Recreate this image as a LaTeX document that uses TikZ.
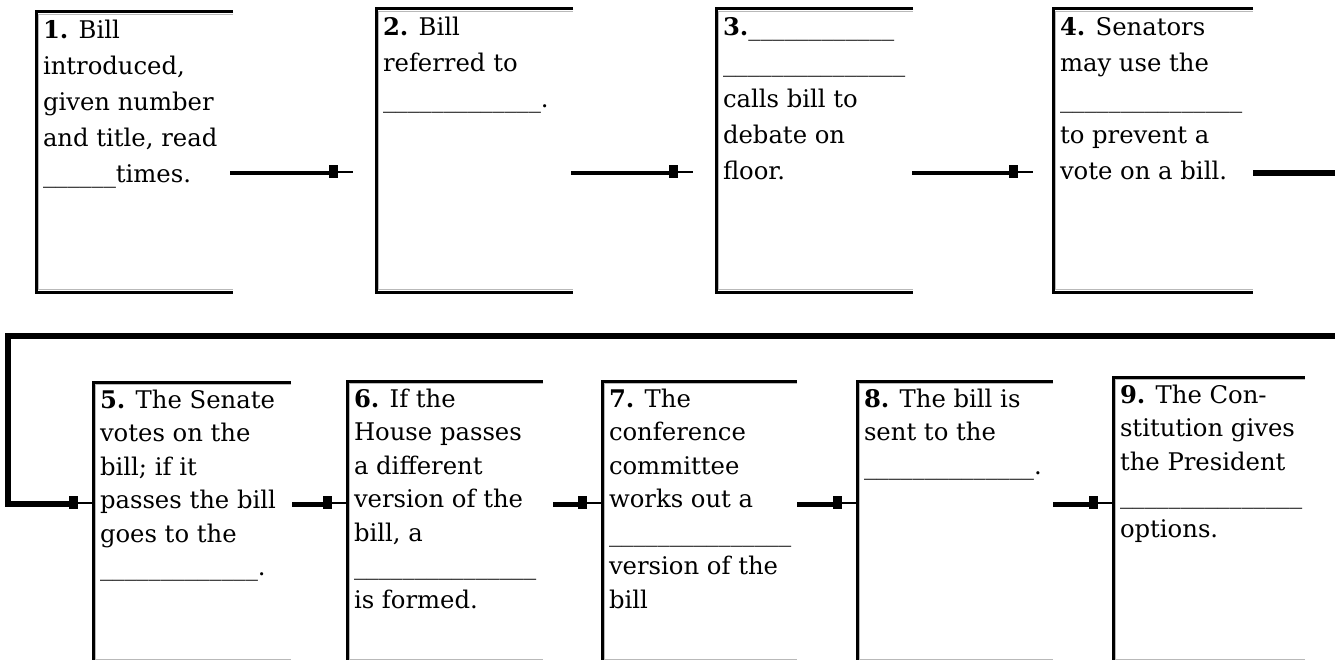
\documentclass[tikz,border=0pt]{standalone}
\usepackage{fontspec}
\setmainfont{DejaVu Serif}
\usetikzlibrary{calc}
\newcommand{\us}[1]{\foreach \i in {1,...,#1}{\_}}
\newcommand{\frameit}[1]{%
  \draw[line width=3pt,black] (#1.north east) -- (#1.north west) -- (#1.south west) -- (#1.south east);
  \draw[line width=1.2pt,gray!55] ($(#1.north east)+(0,2.2)$) -- ($(#1.north west)+(2.2,2.2)$) -- ($(#1.south west)+(2.2,-2.2)$) -- ($(#1.south east)+(0,-2.2)$);}
\newcommand{\flow}[3][5pt]{%
  \draw[line width=#1] (#2) -- ($(#3)+(-15,0)$);
  \fill ($(#3)+(-24,-8)$) rectangle ($(#3)+(-15,5)$);
  \draw[line width=1.6pt] ($(#3)+(-15,-1)$) -- ($(#3)+(0,-1)$);}
\tikzset{
  boxnode/.style={inner sep=0pt, outer sep=0pt, anchor=north west},
  txt/.style={inner sep=0pt, outer sep=0pt, anchor=north west, align=left,
    execute at begin node={\rule{0pt}{19pt}}},
  toptxt/.style={txt, font=\fontsize{24.3pt}{36pt}\selectfont},
  bottxt/.style={txt, font=\fontsize{24.3pt}{33.5pt}\selectfont},
}
\begin{document}
\begin{tikzpicture}[x=1pt,y=-1pt]
\useasboundingbox (0,0) rectangle (1335,660);
\clip (0,0) rectangle (1335,660);
% top row boxes
\node[boxnode, minimum width=197pt, minimum height=280pt] (b1) at (36,12) {};
\node[boxnode, minimum width=197pt, minimum height=283pt] (b2) at (376,9) {};
\node[boxnode, minimum width=197pt, minimum height=283pt] (b3) at (716,9) {};
\node[boxnode, minimum width=200pt, minimum height=283pt] (b4) at (1053,9) {};
% bottom row boxes
\node[boxnode, minimum width=198pt, minimum height=280pt] (b5) at (93,382) {};
\node[boxnode, minimum width=196pt, minimum height=281pt] (b6) at (347,381) {};
\node[boxnode, minimum width=195pt, minimum height=281pt] (b7) at (602,381) {};
\node[boxnode, minimum width=196pt, minimum height=281pt] (b8) at (857,381) {};
\node[boxnode, minimum width=192pt, minimum height=285pt] (b9) at (1113,377) {};
\foreach \b in {b1,b2,b3,b4,b5,b6,b7,b8,b9}{\frameit{\b}}
% texts
\node[toptxt] (t1) at ($(b1.north west)+(7,8)$) {\textbf{1.} Bill\\introduced,\\given number\\and title, read\\\us{6}times.};
\node[toptxt] (t2) at ($(b2.north west)+(7,8)$) {\textbf{2.} Bill\\referred to\\\us{13}.};
\node[toptxt] (t3) at ($(b3.north west)+(7,8)$) {\textbf{3.}\us{12}\\\us{15}\\calls bill to\\debate on\\floor.};
\node[toptxt] (t4) at ($(b4.north west)+(7,8)$) {\textbf{4.} Senators\\may use the\\\us{15}\\to prevent a\\vote on a bill.};
\node[bottxt] (t5) at ($(b5.north west)+(7,8)$) {\textbf{5.} The Senate\\votes on the\\bill; if it\\passes the bill\\goes to the\\\us{13}.};
\node[bottxt] (t6) at ($(b6.north west)+(7,8)$) {\textbf{6.} If the\\House passes\\a different\\version of the\\bill, a\\\us{15}\\is formed.};
\node[bottxt] (t7) at ($(b7.north west)+(7,8)$) {\textbf{7.} The\\conference\\committee\\works out a\\\us{15}\\version of the\\bill};
\node[bottxt] (t8) at ($(b8.north west)+(7,8)$) {\textbf{8.} The bill is\\sent to the\\\us{14}.};
\node[bottxt] (t9) at ($(b9.north west)+(7,8)$) {\textbf{9.} The Con-\\stitution gives\\the President\\\us{15}\\options.};
% connector end points
\coordinate (s1) at (230,173); \coordinate (e1) at (353,173);
\coordinate (s2) at (571,173); \coordinate (e2) at (693,173);
\coordinate (s3) at (912,173); \coordinate (e3) at (1033,173);
\coordinate (s4) at (1253,173);
\coordinate (r1) at (1345,173); \coordinate (r2) at (1345,336);
\coordinate (l1) at (8,336); \coordinate (l2) at (8,504);
\coordinate (e4) at (b5.west |- 0,504);
\coordinate (s5) at (292,504); \coordinate (e5) at (b6.west |- 0,504);
\coordinate (s6) at (553,504); \coordinate (e6) at (b7.west |- 0,504);
\coordinate (s7) at (797,504); \coordinate (e7) at (b8.west |- 0,504);
\coordinate (s8) at (1053,504); \coordinate (e8) at (b9.west |- 0,504);
% connectors
\flow[4.5pt]{s1}{e1}
\flow[4.5pt]{s2}{e2}
\flow[4.5pt]{s3}{e3}
\draw[line width=6.5pt, line join=miter] (s4) -- (r1) -- (r2) -- (l1) -- (l2) -- ($(e4)+(-15,0)$);
\fill ($(e4)+(-24,-8)$) rectangle ($(e4)+(-15,5)$);
\draw[line width=1.6pt] ($(e4)+(-15,-1)$) -- ($(e4)+(0,-1)$);
\flow{s5}{e5}
\flow{s6}{e6}
\flow{s7}{e7}
\flow{s8}{e8}
\end{tikzpicture}
\end{document}
